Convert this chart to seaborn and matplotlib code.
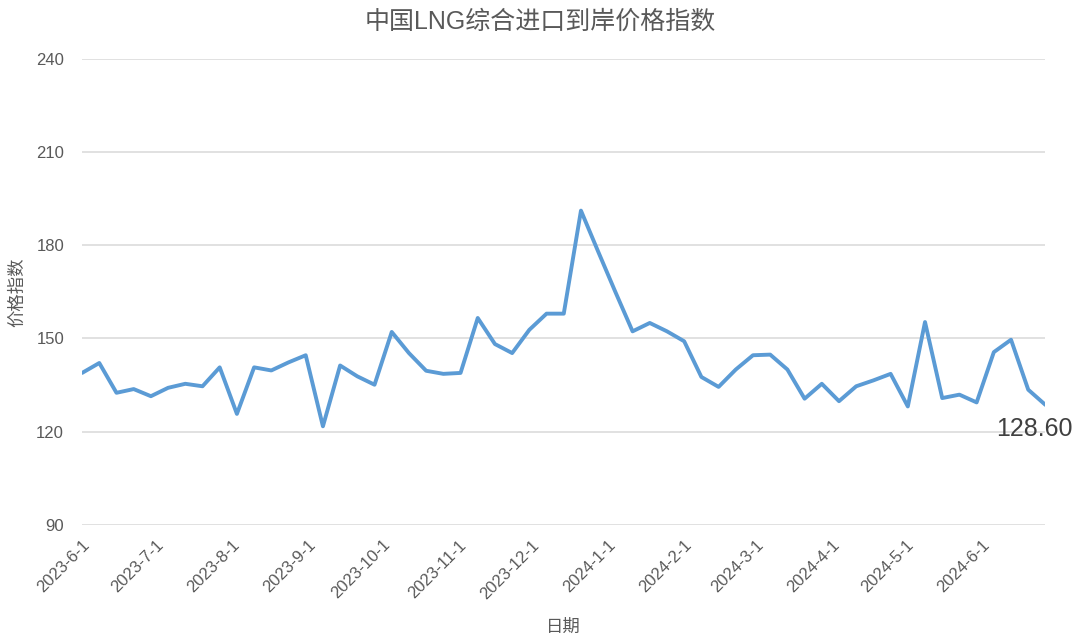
import pandas as pd
import matplotlib
matplotlib.use("Agg")
import matplotlib.pyplot as plt
import seaborn as sns

# 周度数据
start_date = "2023-06-01"
index_values = [
    138.9, 142.1, 132.5, 133.7, 131.4, 134.1, 135.4, 134.6, 140.7, 125.7,
    140.7, 139.7, 142.3, 144.6, 121.7, 141.3, 137.8, 135.1, 152.1, 145.3,
    139.6, 138.6, 138.9, 156.6, 148.2, 145.3, 152.8, 158.0, 158.0, 191.2,
    178.0, 165.0, 152.3, 155.0, 152.3, 149.1, 137.6, 134.4, 140.0, 144.6,
    144.8, 140.0, 130.6, 135.4, 129.8, 134.6, 136.5, 138.6, 128.1, 155.3,
    130.8, 131.9, 129.4, 145.6, 149.6, 133.5, 128.6,
]
tick_labels = [
    "2023-6-1", "2023-7-1", "2023-8-1", "2023-9-1", "2023-10-1", "2023-11-1",
    "2023-12-1", "2024-1-1", "2024-2-1", "2024-3-1", "2024-4-1", "2024-5-1",
    "2024-6-1",
]
y_ticks = [90, 120, 150, 180, 210, 240]
last_label = "128.60"

title = "中国LNG综合进口到岸价格指数"
x_title = "日期"
y_title = "价格指数"

GRAY = "#595959"
LINE = "#5B9BD5"


def build_frame() -> pd.DataFrame:
    dates = pd.date_range(start_date, periods=len(index_values), freq="7D")
    return pd.DataFrame({"date": dates, "value": index_values})


def plot(df: pd.DataFrame) -> None:
    sns.set_style("white")
    plt.rcParams["font.family"] = ["Liberation Sans", "Noto Sans CJK SC", "DejaVu Sans"]

    fig = plt.figure(figsize=(10.8, 6.36), dpi=100)
    ax = fig.add_axes([0.076, 0.175, 0.892, 0.732])

    sns.lineplot(data=df, x="date", y="value", ax=ax, color=LINE, linewidth=2.8)

    ax.set_xlim(df["date"].iloc[0], df["date"].iloc[-1])
    ax.set_ylim(y_ticks[0], y_ticks[-1])
    ax.set_yticks(y_ticks)
    ax.yaxis.grid(True, color="#D9D9D9", linewidth=1.1)
    ax.set_axisbelow(True)
    for s in ax.spines.values():
        s.set_visible(False)

    tick_pos = pd.to_datetime(tick_labels, format="%Y-%m-%d")
    ax.set_xticks(tick_pos)
    ax.set_xticklabels(tick_labels, rotation=45, ha="right", va="top",
                       rotation_mode="anchor")
    for lbl in ax.get_xticklabels():
        lbl.set_x(lbl.get_position()[0])
    ax.tick_params(axis="x", length=0, pad=9, labelsize=12, labelcolor=GRAY)
    ax.tick_params(axis="y", length=0, pad=13, labelsize=12, labelcolor=GRAY)

    ax.set_xlabel(x_title, fontsize=12.5, color=GRAY, labelpad=12)
    ax.set_ylabel(y_title, fontsize=12.5, color=GRAY, labelpad=8)
    fig.suptitle(title, fontsize=18, color=GRAY, y=0.985)

    # 最后一个点的数据标签
    ax.annotate(last_label, xy=(df["date"].iloc[-1], df["value"].iloc[-1]),
                xytext=(-8, -17), textcoords="offset points",
                ha="center", va="center", fontsize=18, color="#404040",
                annotation_clip=False)

    fig.savefig("out.png", dpi=100)


def main():
    df = build_frame()
    plot(df)


if __name__ == "__main__":
    main()
